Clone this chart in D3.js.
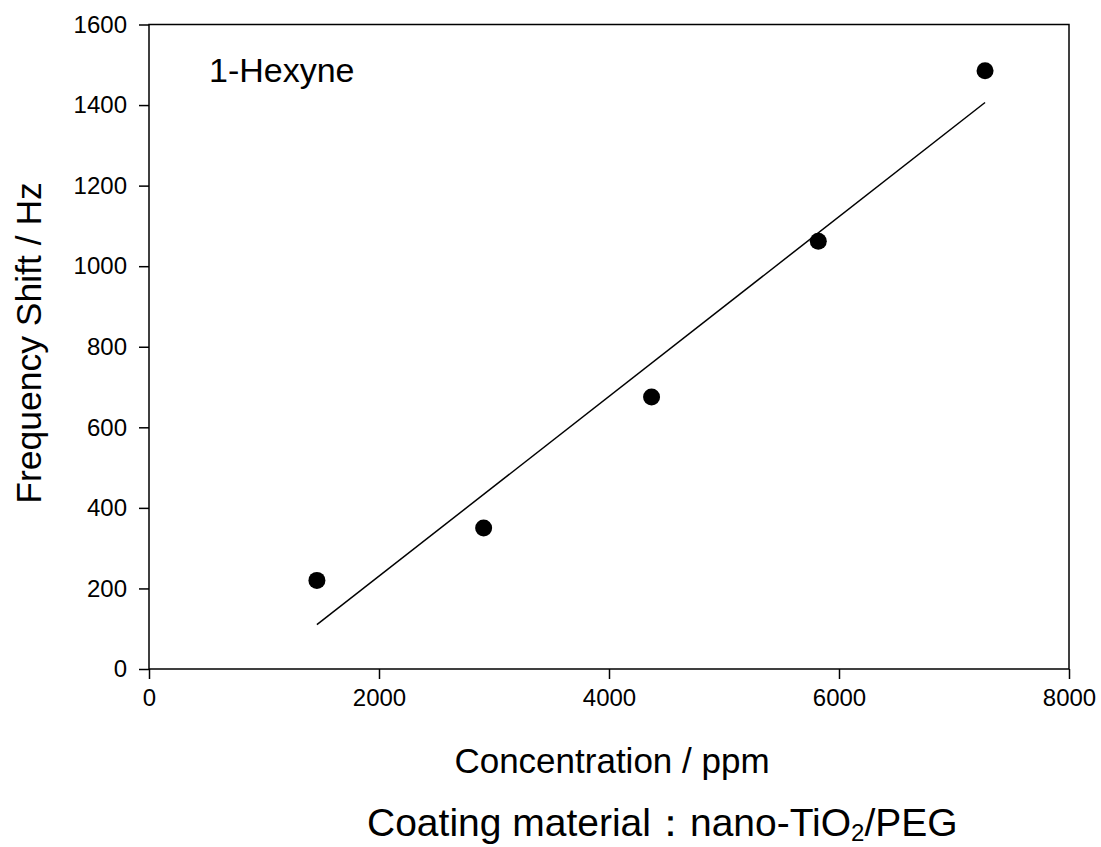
<!DOCTYPE html>
<html>
<head>
<meta charset="utf-8">
<script src="https://cdn.jsdelivr.net/npm/d3@7"></script>
<style>
  body { margin: 0; background: #fff; }
  svg { display: block; font-family: "Liberation Sans", Arial, sans-serif; }
</style>
</head>
<body>
<svg width="1101" height="847"></svg>
<script>
'use strict';

// data
const concentration = [1460, 2910, 4370, 5820, 7270];
const freqShift = [220, 350, 675, 1062, 1485];
const xTicks = [0, 2000, 4000, 6000, 8000];
const yTicks = [0, 200, 400, 600, 800, 1000, 1200, 1400, 1600];

const svg = d3.select("svg");
const plotL = 149, plotR = 1069, plotT = 24.5, plotB = 669;

const x = d3.scaleLinear().domain([0, 8000]).range([plotL, plotR]);
const y = d3.scaleLinear().domain([0, 1600]).range([plotB, plotT]);

// least squares fit of the points
const mx = d3.mean(concentration), my = d3.mean(freqShift);
let sxy = 0, sxx = 0;
concentration.forEach(function (c, i) {
    sxy += (c - mx) * (freqShift[i] - my);
    sxx += (c - mx) * (c - mx);
});
const slope = sxy / sxx, icpt = my - slope * mx;

// frame
svg.append("rect")
    .attr("x", plotL).attr("y", plotT)
    .attr("width", plotR - plotL).attr("height", plotB - plotT)
    .attr("fill", "none").attr("stroke", "#000").attr("stroke-width", 1.5);

const xAxis = svg.append("g")
    .attr("transform", "translate(0," + plotB + ")")
    .call(d3.axisBottom(x).tickValues(xTicks).tickFormat(d3.format("d")).tickSize(10).tickPadding(10));
const yAxis = svg.append("g")
    .attr("transform", "translate(" + plotL + ",0)")
    .call(d3.axisLeft(y).tickValues(yTicks).tickFormat(d3.format("d")).tickSize(10).tickPadding(12));

[xAxis, yAxis].forEach(function (a) {
    a.select(".domain").remove();
    a.selectAll("line").attr("stroke", "#000").attr("stroke-width", 1.5);
    a.selectAll("text")
        .attr("fill", "#000")
        .style("font-size", "24px")
        .style("font-family", '"Liberation Sans", Arial, sans-serif');
});

// fit line
const xs = d3.extent(concentration);
svg.append("line")
    .attr("x1", x(xs[0])).attr("y1", y(icpt + slope * xs[0]))
    .attr("x2", x(xs[1])).attr("y2", y(icpt + slope * xs[1]))
    .attr("stroke", "#000").attr("stroke-width", 1.5);

// points
svg.selectAll("circle.pt")
    .data(concentration)
    .enter().append("circle")
    .attr("class", "pt")
    .attr("cx", function (d) { return x(d); })
    .attr("cy", function (d, i) { return y(freqShift[i]); })
    .attr("r", 8.5)
    .attr("fill", "#000");

// labels
svg.append("text")
    .attr("x", 209).attr("y", 82)
    .style("font-size", "34px")
    .text("1-Hexyne");

svg.append("text")
    .attr("transform", "translate(41,343) rotate(-90)")
    .attr("text-anchor", "middle")
    .style("font-size", "35.5px")
    .text("Frequency Shift / Hz");

svg.append("text")
    .attr("x", 612).attr("y", 773)
    .attr("text-anchor", "middle")
    .style("font-size", "35px")
    .text("Concentration / ppm");

const coat = svg.append("text")
    .attr("x", 367).attr("y", 836)
    .style("font-size", "39px");
coat.append("tspan").text("Coating material\uFF1Anano-TiO");
coat.append("tspan").attr("dy", 5).style("font-size", "24px").text("2");
coat.append("tspan").attr("dy", -5).text("/PEG");
</script>
</body>
</html>
